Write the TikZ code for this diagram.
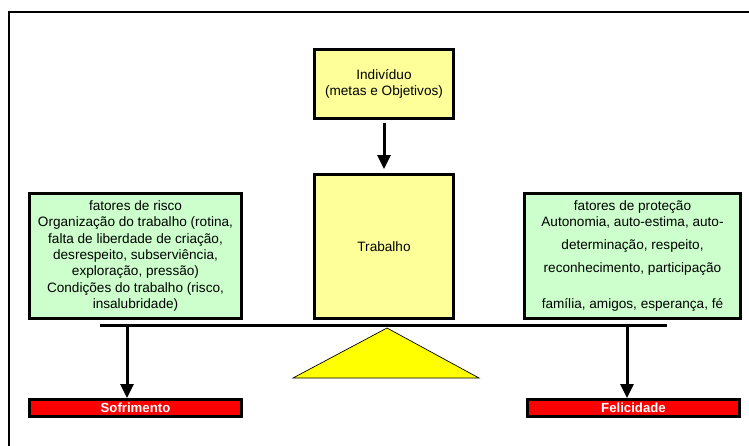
\documentclass[tikz,border=0pt]{standalone}
\usepackage{fontspec}
\setmainfont{Liberation Sans}
\usetikzlibrary{positioning,calc,arrows.meta}

\definecolor{boxyellow}{HTML}{FFFF99}
\definecolor{boxgreen}{HTML}{CCFFCC}
\definecolor{pivot}{HTML}{FFFF00}

\tikzset{
    caixa/.style={draw, line width=3pt, fill=boxyellow, align=center, inner sep=2pt},
    fator/.style={caixa, fill=boxgreen, minimum height=125pt},
    result/.style={draw, line width=3pt, fill=red, text=white, font=\fontsize{13.2}{15}\selectfont\bfseries,
        minimum width=212pt, minimum height=17pt, inner sep=0pt},
    seta/.style={line width=3pt, -{Triangle[width=13pt,length=14pt]}},
}

\begin{document}
\begin{tikzpicture}[x=1pt, y=-1pt, font=\fontsize{13.6}{16.4}\selectfont]
    \useasboundingbox (0,0) rectangle (749,445);
    \draw[line width=2pt] (9,446) -- (9,12) -- (750,12);

    % Individuo e trabalho
    \node[caixa, minimum width=139pt, minimum height=69pt] (indiv) at (384,84) {Indivíduo\\(metas e Objetivos)};
    \node[caixa, minimum width=139pt, minimum height=144pt] (trab) at (384,246.5) {Trabalho};
    \draw[seta, shorten <=3pt, shorten >=4pt] (indiv) -- (trab);

    % Fatores
    \node[fator, minimum width=212pt] (risco) at (135.5,256) {fatores de risco\\
        Organização do trabalho (rotina,\\
        falta de liberdade de criação,\\
        desrespeito, subserviência,\\
        exploração, pressão)\\
        Condições do trabalho (risco,\\
        insalubridade)};
    \node[fator, minimum width=216pt] (protec) at (632.5,256) {fatores de proteção\\
        Autonomia, auto-estima, auto-\\[6pt]
        determinação, respeito,\\[6.5pt]
        reconhecimento, participação\\[20pt]
        família, amigos, esperança, fé};

    % Alavanca
    \coordinate (lvL) at (100,325);
    \coordinate (lvR) at (667,325);
    \coordinate (apoioE) at (127,325);
    \coordinate (apoioD) at (627,325);
    \draw[line width=3pt] (lvL) -- (lvR);
    \filldraw[fill=pivot, draw=black, line width=0.7pt] (387,328) -- (479,378) -- (293,378) -- cycle;

    % Resultados
    \node[result] (sofr) at (135.5,408) {Sofrimento};
    \node[result] (felic) at (633.5,408) {Felicidade};
    \draw[seta] (apoioE) -- (sofr.north -| apoioE);
    \draw[seta] (apoioD) -- (felic.north -| apoioD);
\end{tikzpicture}
\end{document}
